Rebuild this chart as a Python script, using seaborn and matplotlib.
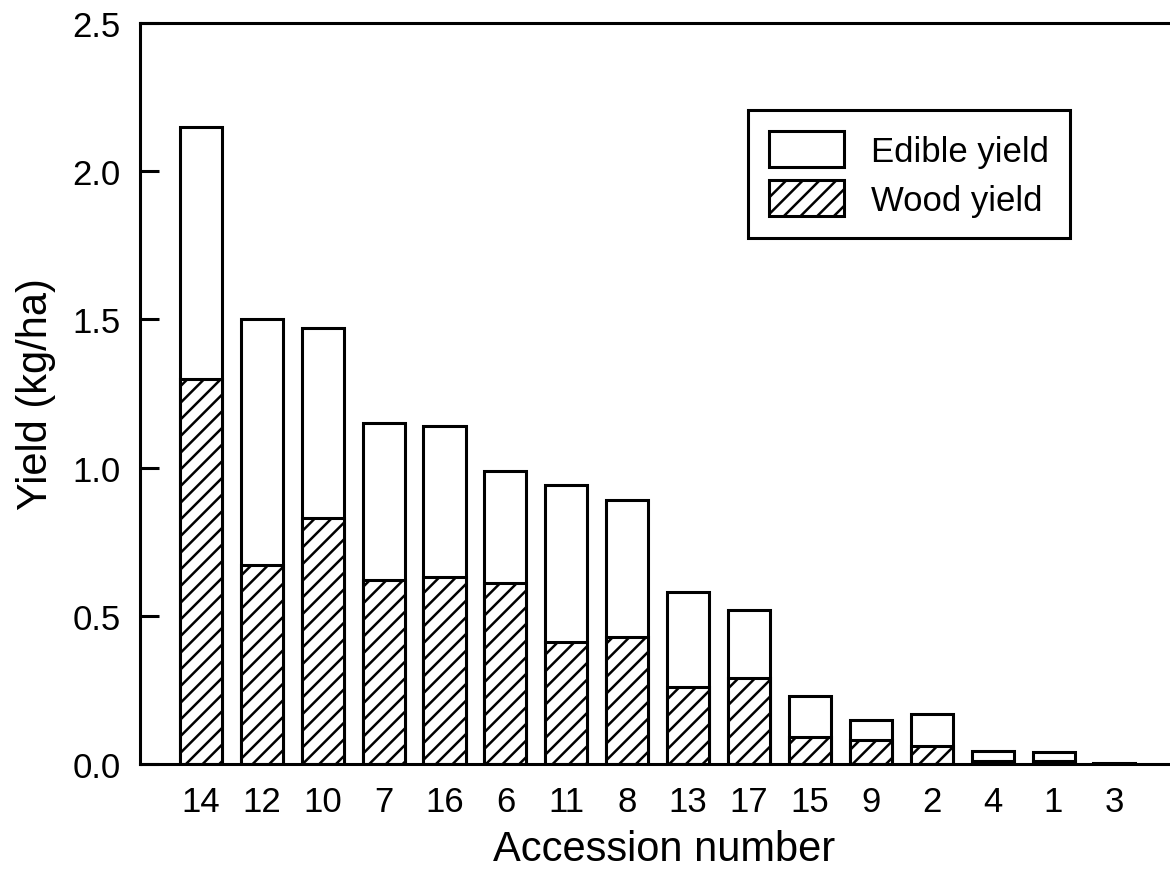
import pandas as pd
import matplotlib
matplotlib.use('Agg')
import matplotlib.pyplot as plt
from matplotlib.patches import Patch
import seaborn as sns

# values
accession = ['14', '12', '10', '7', '16', '6', '11', '8', '13', '17', '15', '9', '2', '4', '1', '3']
total_yield = [2.15, 1.50, 1.47, 1.15, 1.14, 0.99, 0.94, 0.89, 0.58, 0.52, 0.23, 0.15, 0.17, 0.045, 0.04, 0.005]
wood_yield = [1.30, 0.67, 0.83, 0.62, 0.63, 0.61, 0.41, 0.43, 0.26, 0.29, 0.09, 0.08, 0.06, 0.01, 0.01, 0.0]

df = pd.DataFrame({'Accession': accession, 'Total': total_yield, 'Wood': wood_yield})

sns.set_style('ticks')
plt.rcParams['font.family'] = ['Liberation Sans', 'DejaVu Sans']
plt.rcParams['hatch.linewidth'] = 1.8
plt.rcParams['hatch.color'] = 'black'
plt.rcParams['text.color'] = 'black'
plt.rcParams['axes.labelcolor'] = 'black'
plt.rcParams['xtick.color'] = 'black'
plt.rcParams['ytick.color'] = 'black'

fig = plt.figure(figsize=(11.7, 8.7), dpi=100)
ax = fig.add_axes([140 / 1170, 105 / 870, 1047.5 / 1170, 741 / 870])

# total bar (edible on top of wood), then the wood part hatched over it
sns.barplot(data=df, x='Accession', y='Total', order=accession, color='white',
            edgecolor='black', linewidth=2.2, width=0.69, saturation=1, ax=ax)
sns.barplot(data=df, x='Accession', y='Wood', order=accession, color='white',
            edgecolor='black', linewidth=2.2, width=0.69, saturation=1,
            hatch='//', ax=ax)

ax.set_xlim(-1, 16.2)
ax.set_ylim(0, 2.5)
ax.set_yticks([0.0, 0.5, 1.0, 1.5, 2.0, 2.5])
ax.set_yticklabels(['0.0', '0.5', '1.0', '1.5', '2.0', '2.5'])

ax.set_xlabel('Accession number', fontsize=30, labelpad=8)
ax.set_ylabel('Yield (kg/ha)', fontsize=30, labelpad=12)
ax.tick_params(axis='x', length=0, pad=15, labelsize=25)
ax.tick_params(axis='y', direction='in', length=14, width=2.2, pad=14, labelsize=25)

for side in ['left', 'top', 'bottom', 'right']:
    ax.spines[side].set_visible(True)
    ax.spines[side].set_linewidth(2.2)
    ax.spines[side].set_color('black')

handles = [Patch(facecolor='white', edgecolor='black', linewidth=2.2, label='Edible yield'),
           Patch(facecolor='white', edgecolor='black', linewidth=2.2, hatch='//', label='Wood yield')]
leg = ax.legend(handles=handles, loc='upper right', bbox_to_anchor=(0.888, 0.883),
                borderaxespad=0, fontsize=25, frameon=True, fancybox=False,
                handlelength=2.15, handleheight=1.25, handletextpad=0.8,
                labelspacing=0.35, borderpad=0.6)
leg.get_frame().set_edgecolor('black')
leg.get_frame().set_linewidth(2.2)
leg.get_frame().set_alpha(1)

fig.savefig('out.png', dpi=100)
